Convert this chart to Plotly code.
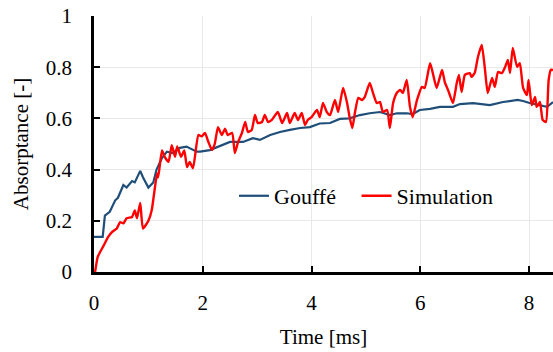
import plotly.graph_objects as go

# Gouffé model absorptance over time
gouffe_t = [0.0, 0.16, 0.2, 0.29, 0.39, 0.44, 0.54, 0.6, 0.7, 0.75, 0.85, 0.9, 1.0, 1.09, 1.15,
            1.25, 1.34, 1.45, 1.58, 1.7, 1.89, 1.95, 2.13, 2.37, 2.5, 2.63, 2.74, 2.92, 3.05, 3.24,
            3.42, 3.6, 3.79, 3.97, 4.15, 4.34, 4.52, 4.7, 4.89, 5.07, 5.26, 5.44, 5.57, 5.75, 5.86,
            5.99, 6.18, 6.36, 6.6, 6.73, 6.97, 7.28, 7.52, 7.79, 7.89, 8.01, 8.2, 8.33, 8.44]
gouffe_a = [0.137, 0.137, 0.22, 0.235, 0.28, 0.29, 0.34, 0.33, 0.355, 0.35, 0.395, 0.37, 0.33, 0.35, 0.40,
            0.445, 0.47, 0.465, 0.485, 0.49, 0.47, 0.47, 0.476, 0.496, 0.508, 0.508, 0.508, 0.523, 0.516, 0.535,
            0.547, 0.555, 0.5625, 0.566, 0.58, 0.582, 0.598, 0.60, 0.613, 0.62, 0.625, 0.613, 0.62, 0.62, 0.617,
            0.633, 0.637, 0.645, 0.645, 0.656, 0.66, 0.652, 0.664, 0.672, 0.668, 0.66, 0.652, 0.645, 0.664]

# Simulated absorptance over time
sim_t = [0.02, 0.07, 0.17, 0.26, 0.33, 0.42, 0.48, 0.54, 0.6, 0.7, 0.75, 0.79, 0.85, 0.9, 1.0,
         1.06, 1.12, 1.16, 1.18, 1.25, 1.3, 1.37, 1.43, 1.49, 1.53, 1.6, 1.66, 1.71, 1.76, 1.82,
         1.92, 1.98, 2.04, 2.1, 2.17, 2.22, 2.28, 2.35, 2.41, 2.46, 2.54, 2.59, 2.65, 2.72, 2.78,
         2.83, 2.9, 2.96, 3.01, 3.09, 3.14, 3.2, 3.27, 3.38, 3.46, 3.55, 3.6, 3.69, 3.75, 3.82,
         3.88, 3.93, 4.0, 4.1, 4.15, 4.21, 4.28, 4.34, 4.43, 4.49, 4.58, 4.65, 4.7, 4.75, 4.8,
         4.86, 4.93, 4.98, 5.07, 5.13, 5.2, 5.26, 5.31, 5.39, 5.44, 5.5, 5.57, 5.63, 5.68, 5.75,
         5.81, 5.86, 5.94, 6.03, 6.08, 6.18, 6.23, 6.3, 6.4, 6.45, 6.51, 6.6, 6.67, 6.71, 6.76,
         6.82, 6.91, 6.94, 7.0, 7.06, 7.13, 7.19, 7.24, 7.32, 7.37, 7.43, 7.5, 7.56, 7.61, 7.65,
         7.7, 7.78, 7.83, 7.89, 7.96, 7.99, 8.05, 8.11, 8.14, 8.2, 8.25, 8.31, 8.36, 8.4, 8.44]
sim_a = [0.0, 0.06, 0.1, 0.137, 0.156, 0.17, 0.195, 0.19, 0.21, 0.215, 0.24, 0.21, 0.27, 0.17, 0.2,
         0.24, 0.33, 0.385, 0.37, 0.475, 0.45, 0.43, 0.495, 0.45, 0.49, 0.45, 0.475, 0.41, 0.43, 0.405,
         0.535, 0.53, 0.543, 0.51, 0.476, 0.5, 0.566, 0.535, 0.56, 0.535, 0.543, 0.465, 0.508, 0.543, 0.586,
         0.547, 0.555, 0.613, 0.582, 0.586, 0.613, 0.586, 0.594, 0.625, 0.582, 0.621, 0.582, 0.621, 0.594, 0.621,
         0.574, 0.594, 0.605, 0.633, 0.605, 0.66, 0.625, 0.613, 0.672, 0.625, 0.719, 0.664, 0.605, 0.562, 0.625,
         0.68, 0.672, 0.684, 0.738, 0.7, 0.66, 0.664, 0.625, 0.633, 0.562, 0.66, 0.7, 0.711, 0.7, 0.75,
         0.645, 0.605, 0.672, 0.723, 0.719, 0.816, 0.777, 0.719, 0.789, 0.742, 0.711, 0.66, 0.738, 0.77, 0.703,
         0.77, 0.777, 0.762, 0.777, 0.84, 0.887, 0.789, 0.699, 0.758, 0.723, 0.781, 0.777, 0.801, 0.828, 0.777,
         0.875, 0.801, 0.816, 0.719, 0.691, 0.75, 0.652, 0.684, 0.645, 0.664, 0.594, 0.586, 0.75, 0.79, 0.789]

if len(gouffe_t) != len(gouffe_a) or len(sim_t) != len(sim_a):
    raise ValueError("series length mismatch")

x_ticks = [0, 2, 4, 6, 8]
y_ticks = [0, 0.2, 0.4, 0.6, 0.8, 1]
y_tick_text = ["0", "0.2", "0.4", "0.6", "0.8", "1"]

FONT = "Times New Roman"
axis_font = dict(family=FONT, size=21, color="black")
legend_font = dict(family=FONT, size=22, color="black")

fig = go.Figure()
fig.add_trace(go.Scatter(
    x=gouffe_t, y=gouffe_a, mode="lines", name="Gouffé", legend="legend",
    line=dict(color="#1F4E79", width=2.2),
))
fig.add_trace(go.Scatter(
    x=sim_t, y=sim_a, mode="lines", name="Simulation", legend="legend2",
    line=dict(color="#FF0000", width=2.4, shape="spline", smoothing=0.5),
))

# one legend box per series so each entry sits at its own spot
legend_common = dict(
    orientation="h", y=0.297, xanchor="left", yanchor="middle",
    bgcolor="rgba(0,0,0,0)", font=legend_font, itemwidth=30,
)

fig.update_layout(
    width=553, height=352,
    margin=dict(l=94, r=0, t=16, b=80),
    paper_bgcolor="white", plot_bgcolor="white",
    font=axis_font,
    showlegend=True,
    legend=dict(x=0.305, **legend_common),
    legend2=dict(x=0.572, **legend_common),
    xaxis=dict(
        range=[0, 8.44], tickvals=x_ticks, ticks="inside", ticklen=6, tickwidth=2,
        tickcolor="black", showline=True, linecolor="black", linewidth=2.5,
        showgrid=True, gridcolor="#E8E8E8", gridwidth=1, zeroline=False,
        tickfont=axis_font,
        title=dict(text="Time [ms]", standoff=16, font=axis_font),
        ticklabelstandoff=10,
    ),
    yaxis=dict(
        range=[0, 1], tickvals=y_ticks, ticktext=y_tick_text, ticks="inside", ticklen=6,
        tickwidth=2, tickcolor="black", showline=True, linecolor="black", linewidth=2.5,
        showgrid=True, gridcolor="#E8E8E8", gridwidth=1, zeroline=False,
        tickfont=axis_font,
        title=dict(text="Absorptance [-]", standoff=12, font=axis_font),
        ticklabelstandoff=15,
    ),
)

fig.write_html("out.html")
